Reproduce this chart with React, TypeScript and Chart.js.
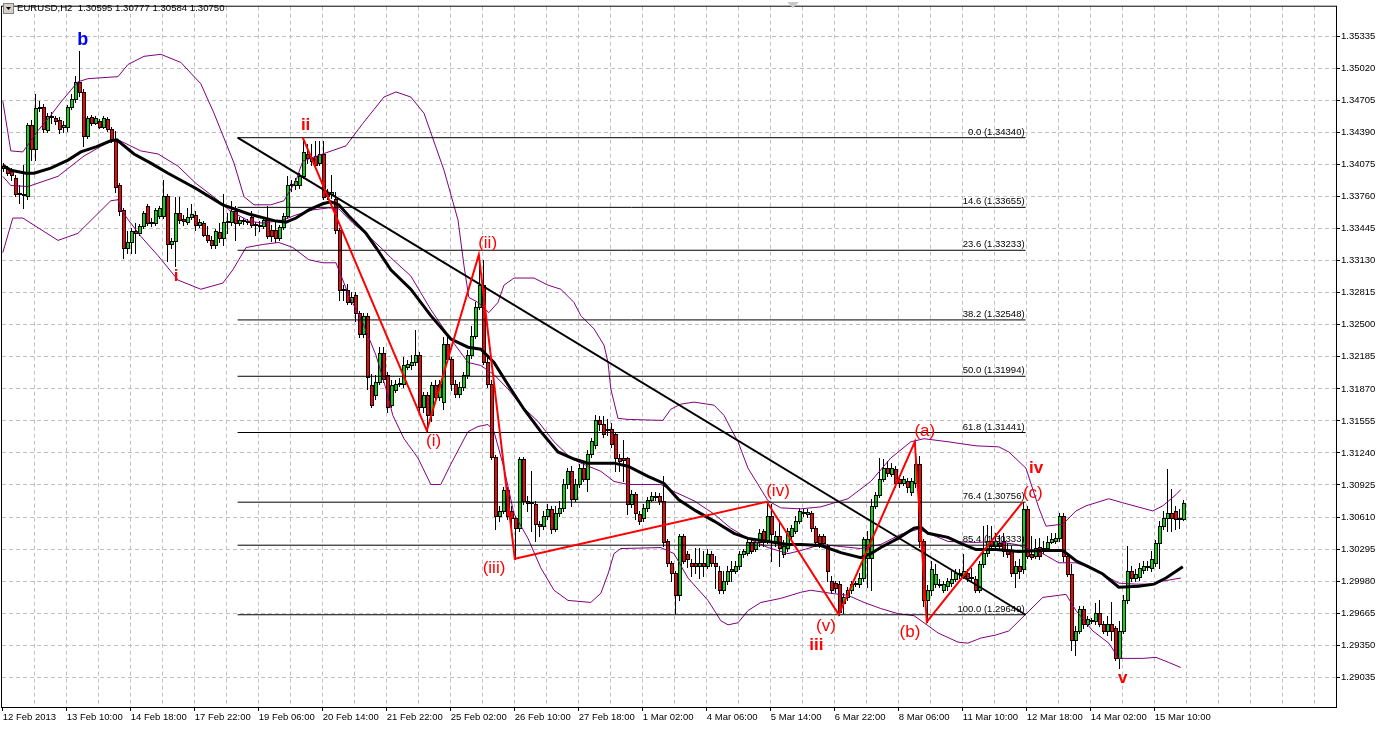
import React, { useEffect, useRef } from "react";
import { Chart, registerables } from "chart.js";

Chart.register(...registerables);

// ---------- text / axis data ----------
const chartTitle = "EURUSD,H2  1.30595 1.30777 1.30584 1.30750";
const timeLabels = [
  "12 Feb 2013", "13 Feb 10:00", "14 Feb 18:00", "17 Feb 22:00", "19 Feb 06:00",
  "20 Feb 14:00", "21 Feb 22:00", "25 Feb 02:00", "26 Feb 10:00", "27 Feb 18:00",
  "1 Mar 02:00", "4 Mar 06:00", "5 Mar 14:00", "6 Mar 22:00", "8 Mar 06:00",
  "11 Mar 10:00", "12 Mar 18:00", "14 Mar 02:00", "15 Mar 10:00",
];
const barsPerLabel = 16;
const barsPerGrid = 8;
const priceTicks = [
  1.29035, 1.2935, 1.29665, 1.2998, 1.30295, 1.3061, 1.30925, 1.3124, 1.31555, 1.3187,
  1.32185, 1.325, 1.32815, 1.3313, 1.33445, 1.3376, 1.34075, 1.3439, 1.34705, 1.3502, 1.35335,
];

// ---------- H2 candles ----------
const openPrices = [
  1.3404,1.3404,1.3402,1.3394,1.3380,1.3379,1.3377,1.3446,1.3423,1.3463,
  1.3464,1.3442,1.3454,1.3453,1.3451,1.3445,1.3445,1.3464,1.3472,1.3489,
  1.3479,1.3436,1.3454,1.3448,1.3450,1.3445,1.3452,1.3443,1.3431,1.3387,
  1.3363,1.3326,1.3331,1.3342,1.3340,1.3347,1.3367,1.3351,1.3350,1.3357,
  1.3357,1.3377,1.3329,1.3332,1.3360,1.3354,1.3351,1.3356,1.3358,1.3348,
  1.3350,1.3338,1.3333,1.3328,1.3341,1.3335,1.3351,1.3351,1.3362,1.3350,
  1.3352,1.3352,1.3356,1.3348,1.3348,1.3347,1.3353,1.3343,1.3343,1.3335,
  1.3346,1.3357,1.3387,1.3387,1.3387,1.3396,1.3418,1.3411,1.3416,1.3409,
  1.3418,1.3379,1.3379,1.3374,1.3343,1.3284,1.3284,1.3272,1.3279,1.3262,
  1.3241,1.3259,1.3191,1.3181,1.3194,1.3222,1.3201,1.3171,1.3186,1.3192,
  1.3192,1.3209,1.3210,1.3213,1.3220,1.3169,1.3181,1.3161,1.3191,1.3179,
  1.3174,1.3231,1.3216,1.3192,1.3182,1.3189,1.3201,1.3220,1.3239,1.3268,
  1.3289,1.3213,1.3192,1.3120,1.3062,1.3067,1.3088,1.3067,1.3060,1.3050,
  1.3118,1.3077,1.3075,1.3074,1.3054,1.3052,1.3062,1.3069,1.3049,1.3065,
  1.3070,1.3093,1.3106,1.3079,1.3093,1.3109,1.3098,1.3123,1.3132,1.3156,
  1.3152,1.3147,1.3148,1.3143,1.3119,1.3119,1.3119,1.3074,1.3084,1.3064,
  1.3060,1.3070,1.3078,1.3081,1.3082,1.3077,1.3037,1.3016,1.3006,1.2984,
  1.3042,1.3025,1.3016,1.3016,1.3013,1.3016,1.3013,1.3025,1.3016,1.3008,
  1.2989,1.2998,1.3010,1.3008,1.3013,1.3025,1.3026,1.3036,1.3030,1.3036,
  1.3047,1.3037,1.3062,1.3037,1.3042,1.3025,1.3031,1.3042,1.3047,1.3057,
  1.3065,1.3064,1.3065,1.3050,1.3042,1.3042,1.3033,1.2998,1.2996,1.2995,
  1.2976,1.2982,1.2989,1.2995,1.2995,1.3001,1.3021,1.3021,1.3072,1.3083,
  1.3098,1.3109,1.3103,1.3108,1.3098,1.3094,1.3096,1.3086,1.3094,1.3113,
  1.3037,1.2979,1.2989,1.2995,1.2994,1.2989,1.2993,1.2996,1.3000,1.3006,
  1.3003,1.3006,1.3002,1.3000,1.2989,1.3015,1.3026,1.3037,1.3033,1.3035,
  1.3037,1.3028,1.3028,1.3006,1.3013,1.3010,1.3069,1.3025,1.3023,1.3032,
  1.3028,1.3031,1.3036,1.3037,1.3040,1.3062,1.3023,1.3005,1.2940,1.2949,
  1.2971,1.2956,1.2959,1.2959,1.2967,1.2956,1.2949,1.2956,1.2952,1.2922,
  1.2949,1.2979,1.3008,1.3001,1.3002,1.3009,1.3012,1.3011,1.3016,1.3035,
  1.3052,1.3060,1.3065,1.3067,1.3059,1.30595,
];
const highPrices = [
  1.3409,1.3406,1.3404,1.3397,1.3387,1.3407,1.3448,1.3451,1.3477,1.3470,
  1.3467,1.3458,1.3459,1.3455,1.3454,1.3450,1.3466,1.3477,1.3495,1.3519,
  1.3482,1.3455,1.3456,1.3455,1.3452,1.3455,1.3454,1.3445,1.3441,1.3389,
  1.3365,1.3342,1.3345,1.3350,1.3349,1.3362,1.3369,1.3355,1.3365,1.3367,
  1.3392,1.3379,1.3335,1.3376,1.3376,1.3358,1.3365,1.3369,1.3362,1.3354,
  1.3352,1.3347,1.3337,1.3344,1.3350,1.3379,1.3360,1.3372,1.3367,1.3356,
  1.3355,1.3354,1.3362,1.3351,1.3352,1.3356,1.3367,1.3348,1.3352,1.3348,
  1.3360,1.3396,1.3392,1.3394,1.3399,1.3434,1.3428,1.3428,1.3431,1.3431,
  1.3431,1.3384,1.3397,1.3381,1.3345,1.3289,1.3290,1.3282,1.3282,1.3264,
  1.3262,1.3262,1.3202,1.3201,1.3228,1.3228,1.3204,1.3196,1.3196,1.3198,
  1.3218,1.3215,1.3220,1.3245,1.3223,1.3184,1.3184,1.3194,1.3196,1.3196,
  1.3238,1.3241,1.3218,1.3196,1.3194,1.3204,1.3225,1.3249,1.3272,1.3319,
  1.3314,1.3218,1.3196,1.3122,1.3072,1.3091,1.3091,1.3072,1.3062,1.3120,
  1.3120,1.3082,1.3106,1.3077,1.3057,1.3067,1.3074,1.3072,1.3072,1.3077,
  1.3098,1.3109,1.3111,1.3098,1.3113,1.3114,1.3127,1.3139,1.3161,1.3160,
  1.3160,1.3157,1.3153,1.3145,1.3123,1.3137,1.3120,1.3088,1.3086,1.3067,
  1.3074,1.3081,1.3086,1.3086,1.3085,1.3101,1.3039,1.3018,1.3008,1.3044,
  1.3044,1.3028,1.3020,1.3031,1.3031,1.3028,1.3030,1.3028,1.3023,1.3013,
  1.3008,1.3013,1.3018,1.3018,1.3028,1.3030,1.3039,1.3038,1.3039,1.3049,
  1.3049,1.3076,1.3074,1.3047,1.3057,1.3038,1.3050,1.3053,1.3062,1.3070,
  1.3069,1.3069,1.3067,1.3052,1.3044,1.3044,1.3034,1.3003,1.2998,1.2998,
  1.2986,1.2992,1.2998,1.2998,1.3006,1.3041,1.3047,1.3079,1.3086,1.3119,
  1.3118,1.3116,1.3114,1.3111,1.3101,1.3101,1.3099,1.3099,1.3135,1.3121,
  1.3039,1.2994,1.3018,1.3015,1.3000,1.2998,1.3001,1.3008,1.3010,1.3010,
  1.3025,1.3010,1.3011,1.3003,1.3018,1.3052,1.3053,1.3052,1.3045,1.3043,
  1.3045,1.3035,1.3033,1.3018,1.3020,1.3076,1.3072,1.3042,1.3039,1.3040,
  1.3037,1.3042,1.3045,1.3045,1.3065,1.3065,1.3025,1.3015,1.2954,1.2974,
  1.2974,1.2964,1.2962,1.2976,1.2979,1.2959,1.2964,1.2977,1.2954,1.2959,
  1.2984,1.3033,1.3013,1.3010,1.3016,1.3018,1.3018,1.3028,1.3038,1.3057,
  1.3067,1.3108,1.3089,1.3072,1.3069,1.30777,
];
const lowPrices = [
  1.3401,1.3397,1.3392,1.3377,1.3370,1.3365,1.3374,1.3412,1.3412,1.3460,
  1.3440,1.3440,1.3448,1.3447,1.3439,1.3440,1.3441,1.3462,1.3469,1.3475,
  1.3426,1.3434,1.3446,1.3447,1.3444,1.3444,1.3441,1.3430,1.3381,1.3358,
  1.3316,1.3321,1.3321,1.3321,1.3338,1.3345,1.3348,1.3347,1.3348,1.3355,
  1.3355,1.3313,1.3326,1.3308,1.3350,1.3348,1.3349,1.3354,1.3343,1.3346,
  1.3337,1.3331,1.3326,1.3326,1.3331,1.3328,1.3340,1.3348,1.3333,1.3348,
  1.3349,1.3349,1.3346,1.3338,1.3342,1.3345,1.3335,1.3332,1.3331,1.3333,
  1.3344,1.3355,1.3382,1.3384,1.3385,1.3394,1.3409,1.3407,1.3404,1.3407,
  1.3374,1.3374,1.3375,1.3340,1.3274,1.3274,1.3270,1.3270,1.3254,1.3238,
  1.3238,1.3187,1.3169,1.3177,1.3192,1.3194,1.3164,1.3169,1.3184,1.3190,
  1.3189,1.3207,1.3207,1.3210,1.3164,1.3164,1.3146,1.3155,1.3174,1.3176,
  1.3167,1.3213,1.3186,1.3179,1.3179,1.3186,1.3198,1.3217,1.3237,1.3266,
  1.3211,1.3189,1.3118,1.3049,1.3057,1.3065,1.3059,1.3052,1.3020,1.3047,
  1.3074,1.3067,1.3047,1.3037,1.3042,1.3049,1.3059,1.3045,1.3047,1.3062,
  1.3067,1.3090,1.3072,1.3077,1.3091,1.3096,1.3087,1.3120,1.3129,1.3147,
  1.3140,1.3142,1.3130,1.3106,1.3106,1.3096,1.3064,1.3071,1.3059,1.3054,
  1.3057,1.3067,1.3077,1.3078,1.3074,1.3033,1.3013,1.2998,1.2967,1.2979,
  1.3016,1.3012,1.3003,1.3006,1.3001,1.3003,1.3011,1.3013,1.2991,1.2986,
  1.2986,1.2995,1.2998,1.3006,1.3010,1.3022,1.3024,1.3026,1.3028,1.3033,
  1.3033,1.3035,1.3018,1.3033,1.3013,1.3022,1.3028,1.3039,1.3045,1.3055,
  1.3062,1.3061,1.3047,1.3033,1.3032,1.3032,1.2998,1.2986,1.2987,1.2965,
  1.2967,1.2979,1.2986,1.2993,1.2992,1.2998,1.2992,1.2989,1.3070,1.3081,
  1.3096,1.3101,1.3101,1.3091,1.3091,1.3092,1.3086,1.3083,1.3091,1.3032,
  1.2974,1.2958,1.2984,1.2992,1.2992,1.2987,1.2989,1.2993,1.2998,1.3001,
  1.3001,1.2998,1.2998,1.2987,1.2987,1.3012,1.3023,1.3030,1.3030,1.3030,
  1.3023,1.3022,1.3003,1.2992,1.3001,1.3006,1.3021,1.3020,1.3021,1.3020,
  1.3026,1.3028,1.3035,1.3035,1.3037,1.3018,1.3003,1.2930,1.2925,1.2947,
  1.2952,1.2954,1.2957,1.2956,1.2954,1.2947,1.2945,1.2940,1.2920,1.2913,
  1.2947,1.2976,1.2998,1.2998,1.2999,1.3006,1.3009,1.3008,1.3013,1.3011,
  1.3049,1.3047,1.3047,1.3049,1.3050,1.30584,
];
const closePrices = [
  1.3406,1.3399,1.3397,1.3379,1.3379,1.3378,1.3446,1.3423,1.3463,1.3464,
  1.3443,1.3455,1.3455,1.3450,1.3443,1.3446,1.3464,1.3472,1.3489,1.3479,
  1.3436,1.3453,1.3448,1.3453,1.3445,1.3453,1.3443,1.3433,1.3386,1.3362,
  1.3326,1.3331,1.3342,1.3340,1.3347,1.3360,1.3350,1.3350,1.3363,1.3365,
  1.3377,1.3329,1.3332,1.3360,1.3353,1.3352,1.3356,1.3359,1.3348,1.3351,
  1.3338,1.3333,1.3328,1.3342,1.3335,1.3351,1.3352,1.3362,1.3350,1.3353,
  1.3353,1.3351,1.3348,1.3349,1.3347,1.3353,1.3337,1.3337,1.3335,1.3346,
  1.3357,1.3387,1.3388,1.3391,1.3396,1.3420,1.3414,1.3414,1.3407,1.3418,
  1.3376,1.3377,1.3381,1.3343,1.3284,1.3285,1.3272,1.3277,1.3262,1.3241,
  1.3259,1.3199,1.3171,1.3194,1.3222,1.3197,1.3169,1.3191,1.3192,1.3193,
  1.3210,1.3211,1.3213,1.3220,1.3169,1.3181,1.3161,1.3191,1.3179,1.3192,
  1.3231,1.3216,1.3192,1.3182,1.3189,1.3201,1.3220,1.3239,1.3268,1.3289,
  1.3213,1.3192,1.3120,1.3062,1.3067,1.3088,1.3062,1.3060,1.3050,1.3118,
  1.3077,1.3075,1.3076,1.3054,1.3052,1.3062,1.3069,1.3049,1.3065,1.3070,
  1.3093,1.3106,1.3079,1.3093,1.3109,1.3098,1.3123,1.3136,1.3156,1.3152,
  1.3143,1.3148,1.3133,1.3119,1.3116,1.3117,1.3074,1.3084,1.3065,1.3057,
  1.3070,1.3078,1.3082,1.3082,1.3077,1.3036,1.3016,1.3006,1.2984,1.3042,
  1.3018,1.3020,1.3013,1.3013,1.3016,1.3013,1.3025,1.3016,1.3013,1.2989,
  1.2998,1.3008,1.3008,1.3013,1.3025,1.3028,1.3036,1.3028,1.3036,1.3045,
  1.3036,1.3062,1.3044,1.3042,1.3031,1.3033,1.3047,1.3050,1.3057,1.3067,
  1.3066,1.3066,1.3050,1.3036,1.3035,1.3035,1.3008,1.2989,1.2991,1.2968,
  1.2982,1.2989,1.2995,1.2996,1.3001,1.3039,1.3039,1.3072,1.3083,1.3098,
  1.3109,1.3104,1.3109,1.3094,1.3094,1.3098,1.3091,1.3096,1.3113,1.3037,
  1.2979,1.2989,1.3010,1.3005,1.2995,1.2995,1.2998,1.3000,1.3006,1.3005,
  1.3008,1.3001,1.3001,1.2989,1.3015,1.3026,1.3037,1.3033,1.3037,1.3033,
  1.3028,1.3025,1.3006,1.3013,1.3008,1.3069,1.3023,1.3022,1.3031,1.3023,
  1.3031,1.3036,1.3039,1.3040,1.3062,1.3023,1.3005,1.2940,1.2949,1.2971,
  1.2956,1.2961,1.2960,1.2967,1.2956,1.2949,1.2956,1.2949,1.2922,1.2949,
  1.2979,1.3008,1.3001,1.3005,1.3011,1.3013,1.3013,1.3020,1.3035,1.3052,
  1.3060,1.3065,1.3060,1.3059,1.3060,1.3075,
];

// ---------- indicator lines: [bar, price] ----------
const maLine = [
  [0,1.3407],[2,1.3402],[5.8,1.3399],[7.8,1.3399],[12,1.3404],[16.3,1.3412],[19.5,1.342],[23.3,1.3425],
  [27,1.3431],[28.5,1.3432],[32.8,1.3418],[37,1.3409],[41.3,1.3399],[48.3,1.3384],[55,1.3368],[61.5,1.3359],
  [68.3,1.3352],[70.8,1.3351],[73.3,1.3355],[76.5,1.3363],[80,1.3369],[82,1.3371],[84,1.3368],[86.5,1.3357],
  [90.8,1.334],[93.3,1.3326],[97,1.3304],[102,1.3285],[107,1.3259],[112,1.3236],[116.3,1.3228],[119.5,1.3226],
  [122.8,1.3213],[126.3,1.3191],[130.3,1.3167],[134.5,1.3145],[138.8,1.3125],[142.8,1.3118],[146.3,1.3114],
  [152.8,1.3114],[156.3,1.3111],[161.3,1.3101],[165.3,1.3094],[169,1.3078],[173.3,1.3067],[177.8,1.3057],
  [182.8,1.3045],[186.3,1.304],[191.3,1.3037],[196.3,1.3034],[199.5,1.3034],[204.5,1.3033],[209.5,1.3026],
  [214.5,1.3021],[217,1.3025],[219.5,1.3031],[223.8,1.304],[227.8,1.305],[229.5,1.3051],[231.3,1.3045],
  [236.3,1.3041],[239.5,1.3035],[243.3,1.3029],[248.3,1.3029],[254,1.3027],[260,1.3028],[265,1.3028],
  [268.3,1.3018],[271.5,1.3012],[275,1.3005],[279,1.2992],[284,1.2993],[287.8,1.2995],[290.8,1.3001],[295,1.3012],
];
const bandMid = [
  [0,1.3396],[2,1.3387],[6.3,1.3386],[13.8,1.3396],[20.3,1.3416],[27,1.3431],[28.8,1.3432],[34.5,1.3421],
  [38.8,1.3418],[43.8,1.3406],[48.3,1.3389],[53.3,1.3374],[56.5,1.3363],[61.5,1.3352],[65,1.335],[70,1.3353],
  [73.3,1.3358],[77.5,1.3363],[81.5,1.3365],[84,1.3364],[87.5,1.335],[91.5,1.3337],[95,1.3324],[97,1.3316],
  [102,1.3298],[107,1.3265],[112,1.3236],[116.3,1.3213],[119.5,1.321],[122.8,1.3201],[126.3,1.3187],
  [129.5,1.3171],[133.8,1.3155],[137.8,1.3135],[142,1.3119],[144.5,1.3114],[149.5,1.3106],[152.8,1.3096],
  [156.3,1.3093],[164.5,1.3093],[167.8,1.3086],[172.8,1.3077],[177.8,1.3064],[182,1.305],[186.3,1.304],
  [191.3,1.3031],[196.3,1.3025],[199.5,1.3028],[204.5,1.3034],[209.5,1.3032],[214.5,1.303],[219.5,1.3034],
  [224.5,1.3044],[228.8,1.3049],[232,1.3044],[236.3,1.3037],[243.3,1.3036],[248.3,1.3037],[253.3,1.3034],
  [260,1.3025],[264,1.3016],[268.3,1.3016],[272.5,1.301],[279,1.2996],[283.3,1.2995],[287.5,1.2995],
  [290,1.2998],[294.5,1.3001],
];
const bandUpper = [
  [0,1.347],[2,1.3421],[5,1.342],[8.8,1.3441],[12,1.3456],[14.5,1.3469],[18.8,1.3489],[21.3,1.3492],
  [28.8,1.3494],[31.3,1.3506],[35.3,1.3514],[39.5,1.3516],[44.5,1.3508],[49.5,1.3487],[52.8,1.3458],
  [57.8,1.3409],[60.3,1.3376],[62.8,1.3368],[67,1.3368],[70.3,1.3372],[73.3,1.3392],[75,1.3411],[80,1.3418],
  [85.8,1.3426],[90,1.3448],[95.3,1.3474],[98.3,1.3479],[102,1.3474],[105.3,1.3458],[110.3,1.3402],
  [113.8,1.3353],[115.3,1.3308],[116.5,1.3277],[118.8,1.3272],[121.5,1.3262],[123.8,1.3272],[125.3,1.3289],
  [127.8,1.3296],[132.8,1.3296],[136.3,1.3289],[139.5,1.3285],[142.8,1.3272],[144.5,1.3259],[147.8,1.3246],
  [150.3,1.323],[151.3,1.3213],[152,1.3187],[153.8,1.3158],[156.3,1.3157],[165,1.3156],[167,1.3167],
  [169.5,1.3172],[172.8,1.3174],[177.8,1.3171],[180.3,1.3161],[182,1.3148],[183.8,1.3135],[186.3,1.3109],
  [188.8,1.3093],[191.3,1.3077],[194.5,1.307],[199.5,1.3069],[204.5,1.3071],[211.3,1.3079],[217,1.3096],
  [222,1.3119],[227,1.3135],[230.3,1.3138],[236.3,1.3135],[243.3,1.3131],[249,1.313],[251.5,1.3125],
  [255.8,1.3109],[259,1.307],[260.8,1.3052],[265,1.3054],[268.3,1.3067],[270.8,1.3072],[276.5,1.3079],
  [280,1.3075],[287.5,1.3067],[290,1.3072],[293.3,1.3083],[294.5,1.3088],
];
const bandLower = [
  [0,1.3321],[2.5,1.3355],[5,1.3355],[7.8,1.3348],[13.8,1.3333],[18.8,1.334],[27,1.3372],[28.8,1.3373],
  [29.5,1.3363],[34.5,1.3337],[38.8,1.3318],[43.8,1.3294],[49.5,1.3285],[55,1.3291],[57.5,1.3304],
  [60.8,1.3326],[65,1.3329],[69,1.3331],[72.5,1.3326],[76.5,1.3314],[80,1.3311],[83.3,1.3311],[84,1.3304],
  [86.5,1.3279],[90,1.3252],[93.3,1.322],[95.8,1.3187],[97.5,1.3161],[100.3,1.3138],[103.8,1.3119],
  [107,1.3093],[109.5,1.3093],[112,1.3113],[116.3,1.3145],[118.8,1.315],[121.3,1.3152],[122.8,1.3145],
  [125.3,1.3109],[127.8,1.3064],[131.3,1.304],[134.5,1.3011],[137.8,1.2989],[141.3,1.2979],[147,1.2977],
  [149.5,1.2986],[151.3,1.3005],[152.8,1.3025],[154.5,1.303],[164.5,1.3031],[167.8,1.3025],[171.3,1.3001],
  [176.3,1.2979],[179.5,1.2959],[181.3,1.2955],[183.8,1.2957],[186.3,1.2969],[189.5,1.2977],[194.5,1.2981],
  [199.5,1.2987],[202,1.2989],[207,1.2986],[211.3,1.2984],[215.3,1.2977],[219.5,1.2971],[223.8,1.2966],
  [227.8,1.2964],[230.3,1.2957],[233.8,1.2947],[238.8,1.2938],[241.3,1.2937],[244.5,1.2942],[248.3,1.2945],
  [251.5,1.2949],[260,1.2982],[264,1.2984],[265.8,1.2985],[268.3,1.2969],[272.5,1.2949],[276.5,1.2937],
  [279,1.2922],[285,1.2922],[288.3,1.2923],[291.5,1.2918],[294.5,1.2913],
];

// ---------- Fibonacci retracement ----------
const fibLevels = [0.0, 14.6, 23.6, 38.2, 50.0, 61.8, 76.4, 85.4, 100.0];
const fibPrices = [1.3434, 1.33655, 1.33233, 1.32548, 1.31994, 1.31441, 1.30756, 1.30333, 1.29649];
const fibFromBar = 58.7;
const fibToBar = 255.7;

// ---------- Elliott wave zigzag & labels ----------
const zigzag = [
  [75,1.3434],[106,1.3146],[119,1.3319],[128,1.302],[191,1.3076],
  [209,1.2965],[228,1.3135],[231,1.2958],[255,1.3076],
];
const waveLabels = [
  { text: "b", bar: 20, price: 1.353, color: "#0000ff", weight: "bold", size: 18 },
  { text: "ii", bar: 75.7, price: 1.3446, color: "#ff0000", weight: "bold", size: 17 },
  { text: "i", bar: 43.3, price: 1.3298, color: "#ff0000", weight: "bold", size: 17 },
  { text: "(i)", bar: 107.7, price: 1.3135, color: "#ff0000", weight: "normal", size: 17 },
  { text: "(ii)", bar: 121.2, price: 1.333, color: "#ff0000", weight: "normal", size: 17 },
  { text: "(iii)", bar: 122.8, price: 1.3011, color: "#ff0000", weight: "normal", size: 17 },
  { text: "(iv)", bar: 193.8, price: 1.3086, color: "#ff0000", weight: "normal", size: 17 },
  { text: "(v)", bar: 205.8, price: 1.2954, color: "#ff0000", weight: "normal", size: 17 },
  { text: "iii", bar: 203.4, price: 1.2935, color: "#ff0000", weight: "bold", size: 17 },
  { text: "(a)", bar: 230.5, price: 1.3145, color: "#ff0000", weight: "normal", size: 17 },
  { text: "(b)", bar: 226.8, price: 1.2948, color: "#ff0000", weight: "normal", size: 17 },
  { text: "iv", bar: 258.3, price: 1.3109, color: "#ff0000", weight: "bold", size: 17 },
  { text: "(c)", bar: 257.5, price: 1.3084, color: "#ff0000", weight: "normal", size: 17 },
  { text: "v", bar: 280, price: 1.2902, color: "#ff0000", weight: "bold", size: 17 },
];

const AXIS_FONT = '"Liberation Sans", Arial, sans-serif';
const LABEL_FONT = '"Liberation Sans", Arial, sans-serif';
const BULL = "#00e000";
const BEAR = "#ff0000";
const GRID = "#c0c0c0";

const toXY = (pts: number[][]) => pts.map(([x, y]) => ({ x, y }));

const candlePlugin = {
  id: "candles",
  beforeDatasetsDraw(chart: any) {
    const { ctx, chartArea, scales } = chart;
    const xs = scales.x;
    const ys = scales.y;
    ctx.save();
    ctx.beginPath();
    ctx.rect(chartArea.left, chartArea.top, chartArea.right - chartArea.left, chartArea.bottom - chartArea.top);
    ctx.clip();
    for (let i = 0; i < closePrices.length; i++) {
      const cx = Math.round(xs.getPixelForValue(i));
      const yh = Math.round(ys.getPixelForValue(highPrices[i]));
      const yl = Math.round(ys.getPixelForValue(lowPrices[i]));
      const yo = Math.round(ys.getPixelForValue(openPrices[i]));
      const yc = Math.round(ys.getPixelForValue(closePrices[i]));
      ctx.fillStyle = "#000";
      ctx.fillRect(cx, yh, 1, yl - yh + 1);
      const top = Math.min(yo, yc);
      const bot = Math.max(yo, yc);
      ctx.fillRect(cx - 1, top, 4, bot - top + 1);
      if (bot - top >= 2) {
        ctx.fillStyle = closePrices[i] >= openPrices[i] ? BULL : BEAR;
        ctx.fillRect(cx, top + 1, 2, bot - top - 1);
      }
    }
    ctx.restore();
  },
};

const overlayPlugin = {
  id: "overlay",
  afterDatasetsDraw(chart: any) {
    const { ctx, chartArea, scales } = chart;
    const xs = scales.x;
    const ys = scales.y;
    ctx.save();
    // fibonacci level texts
    ctx.fillStyle = "#000";
    ctx.font = "9.5px " + AXIS_FONT;
    ctx.textAlign = "right";
    ctx.textBaseline = "alphabetic";
    const fx = xs.getPixelForValue(fibToBar) - 1;
    fibLevels.forEach((lv, i) => {
      const py = ys.getPixelForValue(fibPrices[i]);
      ctx.fillText(`${lv.toFixed(1)} (${fibPrices[i].toFixed(5)})`, fx, py - 3);
    });
    // wave labels
    ctx.textAlign = "center";
    ctx.textBaseline = "middle";
    waveLabels.forEach((w) => {
      ctx.fillStyle = w.color;
      ctx.font = `${w.weight} ${w.size}px ${LABEL_FONT}`;
      ctx.fillText(w.text, xs.getPixelForValue(w.bar), ys.getPixelForValue(w.price));
    });
    // border
    ctx.strokeStyle = "#000";
    ctx.lineWidth = 1;
    ctx.strokeRect(chartArea.left - 0.5, chartArea.top - 0.5, chartArea.right - chartArea.left + 1, chartArea.bottom - chartArea.top + 1);
    // title + icon
    ctx.fillStyle = "#d4d0c8";
    ctx.fillRect(3, 3, 11, 11);
    ctx.strokeStyle = "#808080";
    ctx.strokeRect(3.5, 3.5, 10, 10);
    ctx.fillStyle = "#000";
    ctx.beginPath();
    ctx.moveTo(6, 7);
    ctx.lineTo(11, 7);
    ctx.lineTo(8.5, 10);
    ctx.closePath();
    ctx.fill();
    ctx.font = "9.6px " + AXIS_FONT;
    ctx.textAlign = "left";
    ctx.textBaseline = "middle";
    ctx.fillText(chartTitle, 17, 8.5);
    // chart shift marker
    ctx.fillStyle = "#c8c8c8";
    ctx.beginPath();
    ctx.moveTo(787, 2);
    ctx.lineTo(799, 2);
    ctx.lineTo(793, 8);
    ctx.closePath();
    ctx.fill();
    ctx.restore();
  },
};

export default function App() {
  const canvasRef = useRef<HTMLCanvasElement | null>(null);

  useEffect(() => {
    const canvas = canvasRef.current;
    if (!canvas) return;
    const lineDs = (pts: number[][], color: string, width: number, order: number) => ({
      type: "line" as const,
      data: toXY(pts),
      borderColor: color,
      borderWidth: width,
      pointRadius: 0,
      tension: 0,
      fill: false,
      order,
    });
    const datasets: any[] = [
      lineDs(zigzag, "#ff0000", 2, 0),
      lineDs([[fibFromBar, fibPrices[0]], [fibToBar, fibPrices[fibPrices.length - 1]]], "#000000", 2, 1),
      ...fibPrices.map((p) => lineDs([[fibFromBar, p], [fibToBar, p]], "#000000", 1, 2)),
      lineDs(maLine, "#000000", 3, 3),
      lineDs(bandUpper, "#800080", 1, 4),
      lineDs(bandMid, "#800080", 1, 4),
      lineDs(bandLower, "#800080", 1, 4),
    ];
    const isLabelTick = (v: number) => v % barsPerLabel === 0 && v / barsPerLabel < timeLabels.length;
    const chart = new Chart(canvas, {
      type: "line",
      data: { datasets },
      options: {
        animation: false,
        responsive: false,
        maintainAspectRatio: false,
        devicePixelRatio: 1,
        events: [],
        layout: { padding: { left: 2, top: 2, right: 0, bottom: 0 } },
        plugins: { legend: { display: false }, tooltip: { enabled: false } },
        scales: {
          x: {
            type: "linear",
            min: -0.2,
            max: 333.3,
            afterBuildTicks: (s: any) => {
              const t = [];
              for (let v = 0; v <= 328; v += barsPerGrid) t.push({ value: v });
              s.ticks = t;
            },
            afterFit: (s: any) => {
              s.height = 22;
            },
            ticks: {
              autoSkip: false,
              maxRotation: 0,
              minRotation: 0,
              align: "start",
              padding: 1,
              color: "#000",
              font: { family: AXIS_FONT, size: 9.5 },
              callback: (v: any) => (isLabelTick(v) ? timeLabels[v / barsPerLabel] : ""),
            },
            grid: {
              color: (c: any) => (c.tick && c.tick.value === 0 ? "rgba(0,0,0,0)" : GRID),
              tickLength: 4,
              tickColor: (c: any) => (c.tick && isLabelTick(c.tick.value) ? "#000" : "rgba(0,0,0,0)"),
            },
            border: { display: false, dash: [4, 3] },
          },
          y: {
            type: "linear",
            position: "right",
            min: 1.28742,
            max: 1.35628,
            afterBuildTicks: (s: any) => {
              s.ticks = priceTicks.map((v) => ({ value: v }));
            },
            afterFit: (s: any) => {
              s.width = 50;
            },
            ticks: {
              autoSkip: false,
              padding: 1,
              color: "#000",
              font: { family: AXIS_FONT, size: 9.5 },
              callback: (v: any) => Number(v).toFixed(5),
            },
            grid: { color: GRID, tickLength: 4, tickColor: "#000" },
            border: { display: false, dash: [4, 3] },
          },
        },
      } as any,
      plugins: [candlePlugin, overlayPlugin],
    });
    return () => chart.destroy();
  }, []);

  return (
    <div style={{ position: "fixed", left: 0, top: 0, width: 1386, height: 729, background: "#ffffff" }}>
      <canvas ref={canvasRef} width={1386} height={729} style={{ display: "block" }} />
    </div>
  );
}
